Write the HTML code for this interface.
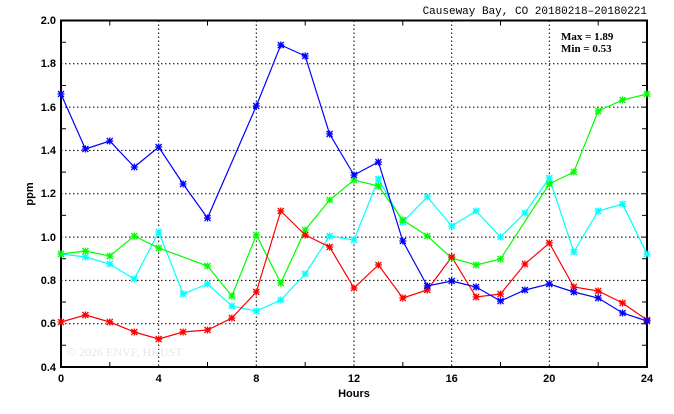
<!DOCTYPE html>
<html><head><meta charset="utf-8"><style>
body{margin:0;background:#fff}
svg text{font-family:"Liberation Sans",sans-serif;font-size:11px;font-weight:bold;fill:#000}
</style></head><body>
<svg width="674" height="409" xmlns="http://www.w3.org/2000/svg">
<defs>
<g id="m"><path d="M-3,-3L3,3M-3,3L3,-3M0,-3.5V3.5M-3.5,0H3.5" stroke-width="1.3"/></g>
</defs>
<g stroke="#000" stroke-dasharray="1.5,2.5" stroke-width="1">
<line x1="61" x2="647" y1="63.8" y2="63.8"/><line x1="61" x2="647" y1="107.1" y2="107.1"/>
<line x1="61" x2="647" y1="150.4" y2="150.4"/><line x1="61" x2="647" y1="193.8" y2="193.8"/>
<line x1="61" x2="647" y1="237.1" y2="237.1"/><line x1="61" x2="647" y1="280.4" y2="280.4"/>
<line x1="61" x2="647" y1="323.7" y2="323.7"/>
<line x1="158.7" x2="158.7" y1="20.5" y2="367"/><line x1="256.3" x2="256.3" y1="20.5" y2="367"/>
<line x1="354" x2="354" y1="20.5" y2="367"/><line x1="451.7" x2="451.7" y1="20.5" y2="367"/>
<line x1="549.3" x2="549.3" y1="20.5" y2="367"/>
</g>
<rect x="61" y="20.5" width="586" height="346.5" fill="none" stroke="#000" stroke-width="2"/>
<g stroke="#000" stroke-width="1">
<path d="M61,42.2h5M61,85.5h5M61,128.8h5M61,172.1h5M61,215.4h5M61,258.7h5M61,302h5M61,345.3h5
M647,42.2h-5M647,63.8h-5M647,85.5h-5M647,107.1h-5M647,128.8h-5M647,150.4h-5M647,172.1h-5M647,193.8h-5M647,215.4h-5M647,237.1h-5M647,258.7h-5M647,280.4h-5M647,302h-5M647,323.7h-5M647,345.3h-5
M109.8,20.5v5M207.5,20.5v5M305.2,20.5v5M402.8,20.5v5M500.5,20.5v5M598.2,20.5v5
M109.8,367v-5M207.5,367v-5M305.2,367v-5M402.8,367v-5M500.5,367v-5M598.2,367v-5"/>
</g>
<g text-anchor="end">
<text x="56" y="24">2.0</text><text x="56" y="67">1.8</text><text x="56" y="111">1.6</text>
<text x="56" y="154">1.4</text><text x="56" y="197">1.2</text><text x="56" y="241">1.0</text>
<text x="56" y="284">0.8</text><text x="56" y="327">0.6</text><text x="56" y="371">0.4</text>
</g>
<g text-anchor="middle">
<text x="61" y="382">0</text><text x="158.7" y="382">4</text><text x="256.3" y="382">8</text>
<text x="354" y="382">12</text><text x="451.7" y="382">16</text><text x="549.3" y="382">20</text>
<text x="647" y="382">24</text>
<text x="354" y="397">Hours</text>
</g>
<text transform="translate(33,194) rotate(-90)" text-anchor="middle">ppm</text>
<text x="647" y="14" text-anchor="end" style="font-family:'Liberation Mono',monospace;font-weight:normal;font-size:11px">Causeway Bay, CO 20180218–20180221</text>
<text x="561" y="40" style="font-family:'Liberation Serif',serif;font-size:11px">Max = 1.89</text>
<text x="561" y="52" style="font-family:'Liberation Serif',serif;font-size:11px">Min = 0.53</text>
<text x="67" y="356" style="font-family:'Liberation Serif',serif;font-weight:normal;font-size:12px;fill:#e6e6e6">© 2026  ENVF, HKUST</text>
<g fill="none" stroke-width="1.2">
<polyline stroke="#00ffff" points="61,254 85.4,257 109.8,264 134.3,279 158.7,232 183.1,294 207.5,284 231.9,306 256.3,311 280.8,300 305.2,274 329.6,236 354,240 378.4,179 402.8,222 427.3,197 451.7,226 476.1,211 500.5,237 524.9,213 549.3,178 573.8,252 598.2,211 622.6,204 647,254"/>
<polyline stroke="#00ff00" points="61,254 85.4,251 109.8,256 134.3,236 158.7,248 207.5,266 231.9,296 256.3,235 280.8,283 305.2,230 329.6,200 354,180 378.4,186 402.8,220 427.3,236 451.7,258 476.1,265 500.5,259 549.3,184 573.8,172 598.2,111 622.6,100 647,94"/>
<polyline stroke="#ff0000" points="61,322 85.4,315 109.8,322 134.3,332 158.7,339 183.1,332 207.5,330 231.9,318 256.3,292 280.8,211 305.2,235 329.6,247 354,288 378.4,265 402.8,298 427.3,290 451.7,257 476.1,297 500.5,294 524.9,264 549.3,243 573.8,287 598.2,291 622.6,303 647,320"/>
<polyline stroke="#0000ff" points="61,94 85.4,149 109.8,141 134.3,167 158.7,147 183.1,184 207.5,218 256.3,106 280.8,45 305.2,56 329.6,134 354,175 378.4,162 402.8,241 427.3,286 451.7,281 476.1,287 500.5,301 524.9,290 549.3,284 573.8,292 598.2,298 622.6,313 647,321"/>
</g>
<g stroke="#00ffff">
<use href="#m" x="61" y="254"/><use href="#m" x="85.4" y="257"/><use href="#m" x="109.8" y="264"/><use href="#m" x="134.3" y="279"/><use href="#m" x="158.7" y="232"/><use href="#m" x="183.1" y="294"/><use href="#m" x="207.5" y="284"/><use href="#m" x="231.9" y="306"/><use href="#m" x="256.3" y="311"/><use href="#m" x="280.8" y="300"/><use href="#m" x="305.2" y="274"/><use href="#m" x="329.6" y="236"/><use href="#m" x="354" y="240"/><use href="#m" x="378.4" y="179"/><use href="#m" x="402.8" y="222"/><use href="#m" x="427.3" y="197"/><use href="#m" x="451.7" y="226"/><use href="#m" x="476.1" y="211"/><use href="#m" x="500.5" y="237"/><use href="#m" x="524.9" y="213"/><use href="#m" x="549.3" y="178"/><use href="#m" x="573.8" y="252"/><use href="#m" x="598.2" y="211"/><use href="#m" x="622.6" y="204"/><use href="#m" x="647" y="254"/>
</g>
<g stroke="#00ff00">
<use href="#m" x="61" y="254"/><use href="#m" x="85.4" y="251"/><use href="#m" x="109.8" y="256"/><use href="#m" x="134.3" y="236"/><use href="#m" x="158.7" y="248"/><use href="#m" x="207.5" y="266"/><use href="#m" x="231.9" y="296"/><use href="#m" x="256.3" y="235"/><use href="#m" x="280.8" y="283"/><use href="#m" x="305.2" y="230"/><use href="#m" x="329.6" y="200"/><use href="#m" x="354" y="180"/><use href="#m" x="378.4" y="186"/><use href="#m" x="402.8" y="220"/><use href="#m" x="427.3" y="236"/><use href="#m" x="451.7" y="258"/><use href="#m" x="476.1" y="265"/><use href="#m" x="500.5" y="259"/><use href="#m" x="549.3" y="184"/><use href="#m" x="573.8" y="172"/><use href="#m" x="598.2" y="111"/><use href="#m" x="622.6" y="100"/><use href="#m" x="647" y="94"/>
</g>
<g stroke="#ff0000">
<use href="#m" x="61" y="322"/><use href="#m" x="85.4" y="315"/><use href="#m" x="109.8" y="322"/><use href="#m" x="134.3" y="332"/><use href="#m" x="158.7" y="339"/><use href="#m" x="183.1" y="332"/><use href="#m" x="207.5" y="330"/><use href="#m" x="231.9" y="318"/><use href="#m" x="256.3" y="292"/><use href="#m" x="280.8" y="211"/><use href="#m" x="305.2" y="235"/><use href="#m" x="329.6" y="247"/><use href="#m" x="354" y="288"/><use href="#m" x="378.4" y="265"/><use href="#m" x="402.8" y="298"/><use href="#m" x="427.3" y="290"/><use href="#m" x="451.7" y="257"/><use href="#m" x="476.1" y="297"/><use href="#m" x="500.5" y="294"/><use href="#m" x="524.9" y="264"/><use href="#m" x="549.3" y="243"/><use href="#m" x="573.8" y="287"/><use href="#m" x="598.2" y="291"/><use href="#m" x="622.6" y="303"/><use href="#m" x="647" y="320"/>
</g>
<g stroke="#0000ff">
<use href="#m" x="61" y="94"/><use href="#m" x="85.4" y="149"/><use href="#m" x="109.8" y="141"/><use href="#m" x="134.3" y="167"/><use href="#m" x="158.7" y="147"/><use href="#m" x="183.1" y="184"/><use href="#m" x="207.5" y="218"/><use href="#m" x="256.3" y="106"/><use href="#m" x="280.8" y="45"/><use href="#m" x="305.2" y="56"/><use href="#m" x="329.6" y="134"/><use href="#m" x="354" y="175"/><use href="#m" x="378.4" y="162"/><use href="#m" x="402.8" y="241"/><use href="#m" x="427.3" y="286"/><use href="#m" x="451.7" y="281"/><use href="#m" x="476.1" y="287"/><use href="#m" x="500.5" y="301"/><use href="#m" x="524.9" y="290"/><use href="#m" x="549.3" y="284"/><use href="#m" x="573.8" y="292"/><use href="#m" x="598.2" y="298"/><use href="#m" x="622.6" y="313"/><use href="#m" x="647" y="321"/>
</g>
</svg>
</body></html>
